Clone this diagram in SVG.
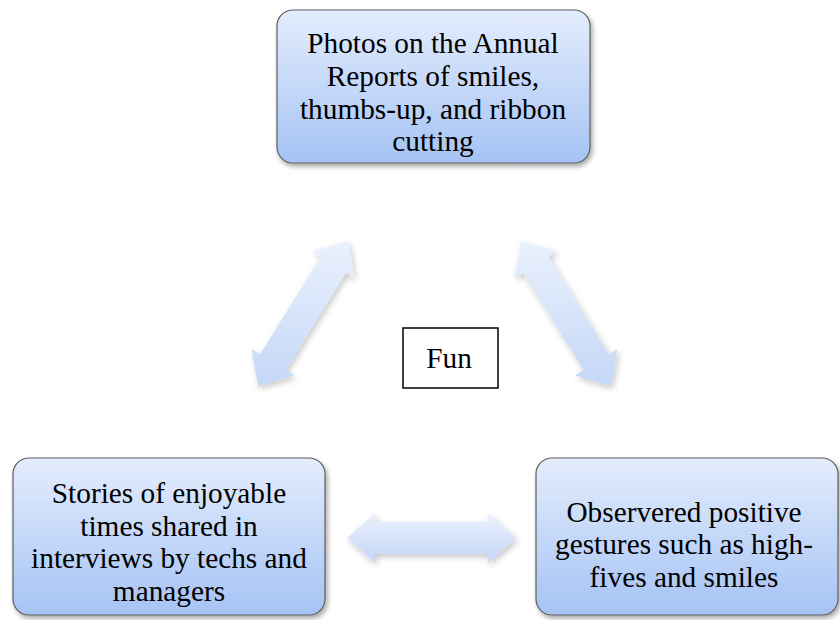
<svg xmlns="http://www.w3.org/2000/svg" width="840" height="620" viewBox="0 0 840 620">
<defs>
<linearGradient id="boxGrad" x1="0" y1="0" x2="0" y2="1">
<stop offset="0" stop-color="#e4edfd"/>
<stop offset="1" stop-color="#a5c3f4"/>
</linearGradient>
<linearGradient id="arrGrad" x1="0" y1="0" x2="0" y2="1">
<stop offset="0" stop-color="#eaf1fd"/>
<stop offset="1" stop-color="#c4d7f7"/>
</linearGradient>
<filter id="shadow" x="-20%" y="-20%" width="140%" height="140%">
<feDropShadow dx="2" dy="3" stdDeviation="2.5" flood-color="#000" flood-opacity="0.35"/>
</filter>
<filter id="ashadow" x="-20%" y="-20%" width="140%" height="140%">
<feDropShadow dx="2" dy="3" stdDeviation="3" flood-color="#000" flood-opacity="0.22"/>
</filter>
</defs>
<style>
.box{fill:url(#boxGrad);stroke:#5e5e5e;stroke-width:1.2;filter:url(#shadow)}
.arrow{fill:url(#arrGrad);stroke:none;filter:url(#ashadow)}
.t{font-family:"Liberation Serif","Times New Roman",serif;font-size:29.3px;fill:#000;text-anchor:middle}
</style>
<rect width="840" height="620" fill="#fff"/>
<g id="connectors">
<path class="arrow" d="M258,386 L294.0,375.4 L285.5,370.1 L346.0,272.7 L354.5,278.0 L348,241 L312.0,251.6 L320.5,256.9 L260.0,354.3 L251.5,349.0 Z"/>
<path class="arrow" d="M611,386 L575.0,375.4 L583.5,370.1 L523.0,272.7 L514.5,278.0 L521,241 L557.0,251.6 L548.5,256.9 L609.0,354.3 L617.5,349.0 Z"/>
<path class="arrow" d="M347,538 L375,513 L375,522 L488,522 L488,513 L516,538 L488,563 L488,554 L375,554 L375,563 Z"/>
</g>
<g id="node-top">
<rect class="box" x="277" y="10" width="313" height="153" rx="16"/>
<text class="t" x="433" y="53">Photos on the Annual</text>
<text class="t" x="433" y="86">Reports of smiles,</text>
<text class="t" x="433" y="119">thumbs-up, and ribbon</text>
<text class="t" x="433" y="151">cutting</text>
</g>
<g id="node-left">
<rect class="box" x="13" y="458" width="312" height="157" rx="16"/>
<text class="t" x="169" y="503">Stories of enjoyable</text>
<text class="t" x="169" y="535.5">times shared in</text>
<text class="t" x="169" y="568">interviews by techs and</text>
<text class="t" x="169" y="600.5">managers</text>
</g>
<g id="node-right">
<rect class="box" x="536" y="458" width="302" height="157" rx="16"/>
<text class="t" x="684" y="521.5">Observered positive</text>
<text class="t" x="684" y="554">gestures such as high-</text>
<text class="t" x="684" y="586.5">fives and smiles</text>
</g>
<g id="node-center">
<rect x="403" y="328" width="95" height="60" fill="#fff" stroke="#000" stroke-width="1.5"/>
<text class="t" x="449" y="367.5">Fun</text>
</g>
</svg>
